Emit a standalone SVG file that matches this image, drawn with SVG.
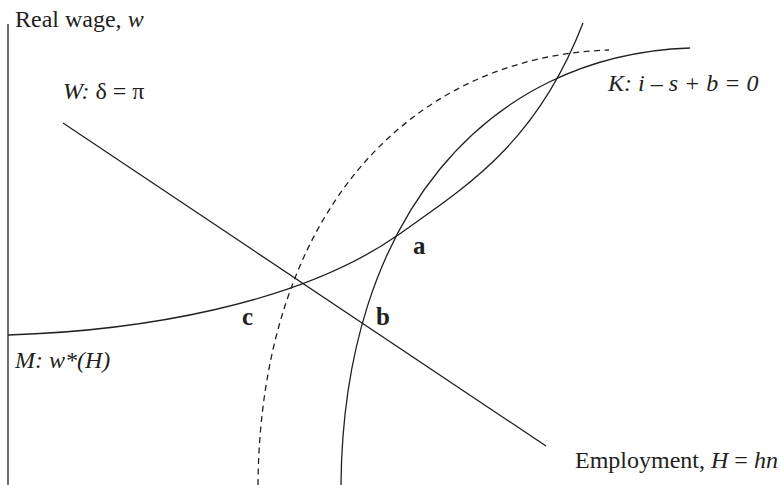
<svg xmlns="http://www.w3.org/2000/svg" width="780" height="485" viewBox="0 0 780 485">
  <style>
    .ln { fill: none; stroke: #231f20; stroke-width: 1.3; }
    .dash { stroke-dasharray: 6 4.5; }
    text { font-family: "Liberation Serif", "Times New Roman", serif; font-size: 24px; fill: #231f20; }
    .it { font-style: italic; }
    .pt { font-weight: bold; font-size: 25px; }
  </style>
  <rect width="780" height="485" fill="#ffffff"/>
  <g id="axis">
    <line class="ln" x1="8" y1="24" x2="8" y2="485" stroke-width="1.6"/>
    <text x="15" y="27">Real wage, <tspan class="it">w</tspan></text>
    <text x="575" y="468">Employment, <tspan class="it">H</tspan> = <tspan class="it">hn</tspan></text>
  </g>
  <g id="connectors">
    <path id="curve-W" class="ln" d="M63,123 L546,446"/>
    <path id="curve-M" class="ln" d="M8,335 C138,331 298,305 398,235 C469,185 537,142 583,23"/>
    <path id="curve-K" class="ln" d="M341,485 C343,220 485,55 690,48"/>
    <path id="curve-K-shifted" class="ln dash" d="M258,485 C260,220 404,57 609,50"/>
  </g>
  <g id="label-W">
    <text x="63" y="99"><tspan class="it">W:</tspan> δ = π</text>
  </g>
  <g id="label-K">
    <text x="608" y="91" class="it">K: i – s + b = 0</text>
  </g>
  <g id="label-M">
    <text x="15" y="368" class="it">M: w*(H)</text>
  </g>
  <g id="point-a"><text class="pt" x="413" y="254">a</text></g>
  <g id="point-b"><text class="pt" x="376" y="325">b</text></g>
  <g id="point-c"><text class="pt" x="242" y="325">c</text></g>
</svg>
